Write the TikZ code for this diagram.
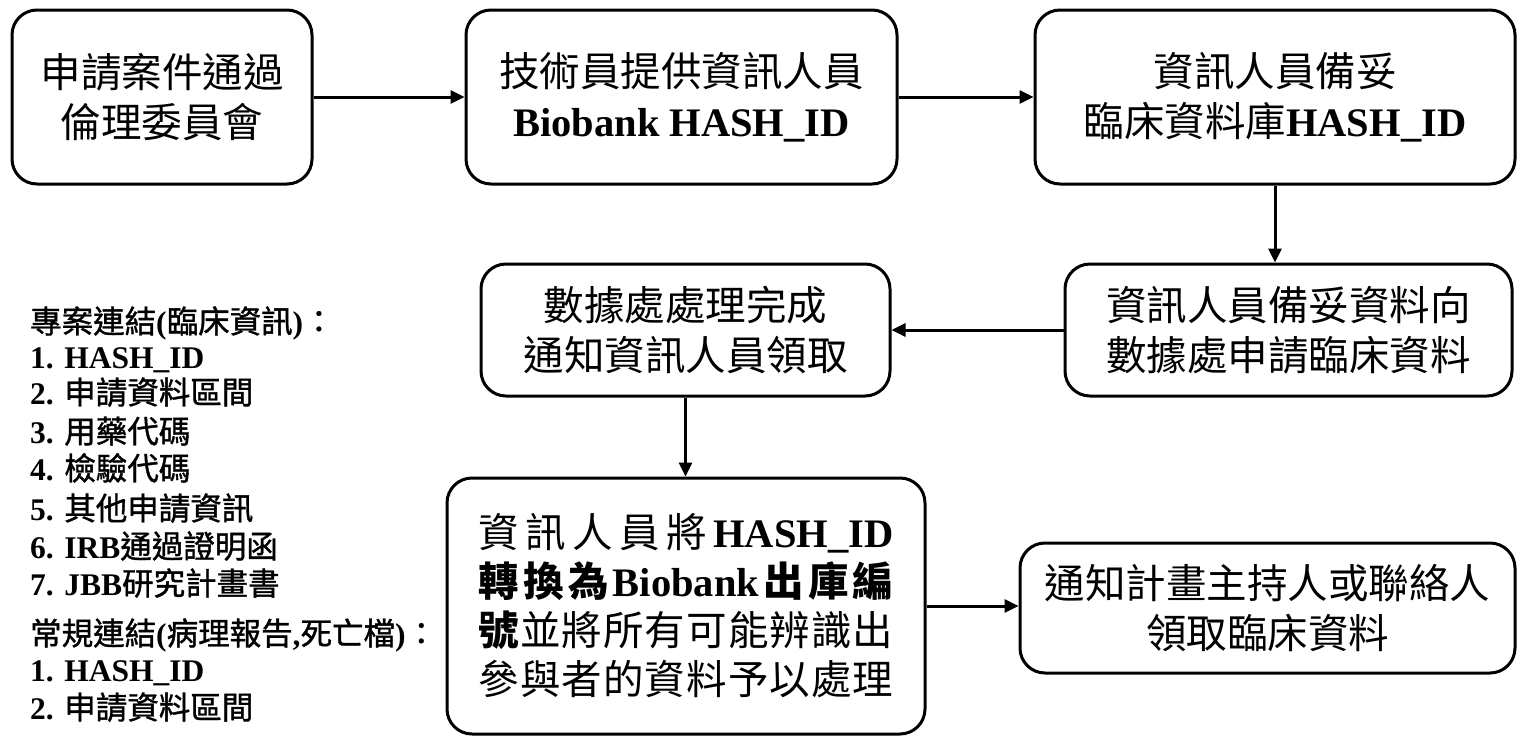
\documentclass[tikz,border=0pt]{standalone}
\usepackage{fontspec}
\setmainfont{Liberation Serif}
\newfontfamily\cjk{Noto Sans CJK TC}
\newfontfamily\cjkm[FakeBold=1.2]{Noto Sans CJK TC}
\newfontfamily\tnr{Liberation Serif}
\usetikzlibrary{arrows.meta}
\newcommand{\lat}[1]{{\tnr\bfseries #1}}
\newcommand{\zhb}[1]{{\cjk\bfseries #1}}
\newcommand{\zhm}[1]{{\cjkm #1}}
\begin{document}
\begin{tikzpicture}[x=1pt,y=-1pt,
  box/.style={draw, line width=3pt, rounded corners=25pt, inner sep=0pt, align=center,
    font=\cjk\fontsize{40.5}{50}\selectfont},
  arr/.style={line width=3pt, -{Triangle[length=14pt,width=13pt]}},
  lst/.style={anchor=base west, inner sep=0pt, font=\fontsize{31.5}{37}\selectfont}]
\useasboundingbox (0,0) rectangle (1522,736);

\node[box, minimum width=300pt, minimum height=174pt] (b1) at (162,97) {申請案件通過\\倫理委員會};
\node[box, minimum width=431pt, minimum height=174pt] (b2) at (681.5,97) {技術員提供資訊人員\\\lat{Biobank HASH\_ID}};
\node[box, minimum width=480pt, minimum height=174pt] (b3) at (1275,97) {資訊人員備妥\\臨床資料庫\lat{HASH\_ID}};
\node[box, minimum width=447pt, minimum height=132pt] (b4) at (1288.5,330) {資訊人員備妥資料向\\數據處申請臨床資料};
\node[box, minimum width=409pt, minimum height=132pt] (b5) at (685.5,330) {數據處處理完成\\通知資訊人員領取};
\node[box, minimum width=478pt, minimum height=256pt, font=\cjk\fontsize{40.5}{49}\selectfont] (b6) at (686,606) {%
\makebox[415pt]{資\hfill 訊\hfill 人\hfill 員\hfill 將\hfill\lat{HASH\_ID}}\\
\makebox[415pt]{\zhb{轉}\hfill\zhb{換}\hfill\zhb{為}\hfill\lat{Biobank}\hfill\zhb{出}\hfill\zhb{庫}\hfill\zhb{編}}\\
\makebox[415pt]{\zhb{號}\hfill 並\hfill 將\hfill 所\hfill 有\hfill 可\hfill 能\hfill 辨\hfill 識\hfill 出}\\
\makebox[415pt]{參\hfill 與\hfill 者\hfill 的\hfill 資\hfill 料\hfill 予\hfill 以\hfill 處\hfill 理}};
\node[box, minimum width=495pt, minimum height=130pt] (b7) at (1267.5,608) {通知計畫主持人或聯絡人\\領取臨床資料};

\draw[arr] (b1) -- (b2);
\draw[arr] (b2) -- (b3);
\draw[arr] (b3.south) -- (b3.south |- b4.north);
\draw[arr] (b4.west) -- (b5.east);
\draw[arr] (b5.south) -- (b5.south |- b6.north);
\draw[arr] (b6.east) -- (b6.east -| b7.west);

\node[lst] (l1) at (30,333) {\zhm{專案連結}\lat{(}\zhm{臨床資訊}\lat{)}\zhm{：}};
\node[lst] (l2) at (30,368) {\lat{1. HASH\_ID}};
\node[lst] (l3) at (30,404) {\lat{2. }\zhm{申請資料區間}};
\node[lst] (l4) at (30,443) {\lat{3. }\zhm{用藥代碼}};
\node[lst] (l5) at (30,480) {\lat{4. }\zhm{檢驗代碼}};
\node[lst] (l6) at (30,520) {\lat{5. }\zhm{其他申請資訊}};
\node[lst] (l7) at (30,558) {\lat{6. IRB}\zhm{通過證明函}};
\node[lst] (l8) at (30,595) {\lat{7. JBB}\zhm{研究計畫書}};
\node[lst] (l9) at (30,645) {\zhm{常規連結}\lat{(}\zhm{病理報告}\lat{,}\zhm{死亡檔}\lat{)}\zhm{：}};
\node[lst] (l10) at (30,681) {\lat{1. HASH\_ID}};
\node[lst] (l11) at (30,719) {\lat{2. }\zhm{申請資料區間}};
\end{tikzpicture}
\end{document}
